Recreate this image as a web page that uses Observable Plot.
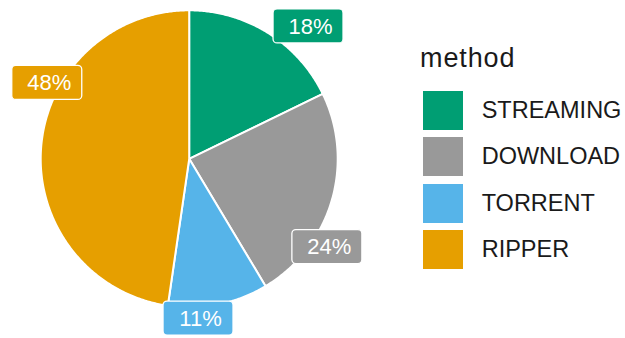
<!DOCTYPE html>
<html>
<head>
<meta charset="utf-8">
<script src="https://cdn.jsdelivr.net/npm/d3@7"></script>
<script src="https://cdn.jsdelivr.net/npm/@observablehq/plot@0.6"></script>
<style>
  html, body { margin: 0; padding: 0; background: #fff; }
  #wrap { position: relative; width: 625px; height: 338px; overflow: hidden; font-family: "Liberation Sans", Arial, sans-serif; }
  #chart { position: absolute; left: 0; top: 0; }
  #legend { position: absolute; left: 420px; top: 45.4px; color: #1a1a1a; }
  #legend .title { font-size: 27px; line-height: 27px; letter-spacing: 0.9px; }
  #legend .row { display: flex; align-items: center; height: 39px; margin-top: 7.5px; }
  #legend .sw { width: 40px; height: 39px; margin-left: 2.7px; margin-right: 19px; }
  #legend .lb { font-size: 23.5px; line-height: 23.5px; }
</style>
</head>
<body>
<div id="wrap">
  <div id="chart"></div>
  <div id="legend"></div>
</div>
<script>
// ---- data ----
const methods = ["STREAMING", "DOWNLOAD", "TORRENT", "RIPPER"];
const shares = [17.8, 23.6, 10.9, 47.7];
const labels = ["18%", "24%", "11%", "48%"];
const colors = ["#009E73", "#999999", "#56B4E9", "#E69F00"];
const legendTitle = "method";

// ---- layout ----
const R = 148.5, cx = 188.7, cy = 158.3;
const labelShiftDeg = [10, 16, 8, 24];   // repel-style nudges
const labelRadius = [1.2, 1.104, 1.078, 1.084];
const boxW = 70, boxH = 34;

const total = d3.sum(shares);
let cum = 0;
const slices = shares.map((v, i) => {
  const a0 = cum / total; cum += v; const a1 = cum / total;
  return {method: methods[i], a0, a1, label: labels[i], i};
});

const pts = [];
for (const s of slices) {
  pts.push({method: s.method, x: 0, y: 0});
  const n = Math.max(2, Math.ceil((s.a1 - s.a0) * 720));
  for (let k = 0; k <= n; k++) {
    const t = 2 * Math.PI * (s.a0 + (s.a1 - s.a0) * k / n);
    pts.push({method: s.method, x: Math.sin(t), y: Math.cos(t)});
  }
  pts.push({method: s.method, x: 0, y: 0});
}

const hw = boxW / 2 / R, hh = boxH / 2 / R;
const lab = slices.map(s => {
  const t = 2 * Math.PI * (s.a0 + s.a1) / 2 + labelShiftDeg[s.i] * Math.PI / 180;
  const r = labelRadius[s.i];
  const x = r * Math.sin(t), y = r * Math.cos(t);
  return {method: s.method, label: s.label, x, y, x1: x - hw, x2: x + hw, y1: y - hh, y2: y + hh};
});

const chart = Plot.plot({
  width: 625, height: 338, margin: 0,
  style: {background: "white", fontFamily: "Liberation Sans, Arial, sans-serif"},
  x: {domain: [-1, 1], range: [cx - R, cx + R], axis: null},
  y: {domain: [-1, 1], range: [cy + R, cy - R], axis: null},
  color: {domain: methods, range: colors},
  marks: [
    Plot.line(pts, {x: "x", y: "y", z: "method", fill: "method", stroke: "white", strokeWidth: 2, curve: "linear"}),
    Plot.rect(lab, {x1: "x1", x2: "x2", y1: "y1", y2: "y2", fill: "method", stroke: "white", strokeWidth: 1.3, rx: 4}),
    Plot.text(lab, {x: "x", y: "y", text: "label", fill: "white", fontSize: 22, dx: 2})
  ]
});
document.getElementById("chart").appendChild(chart);

// ---- legend ----
const leg = document.getElementById("legend");
const title = document.createElement("div");
title.className = "title"; title.textContent = legendTitle;
leg.appendChild(title);
const rows = document.createElement("div");
rows.style.marginTop = "18.6px";
methods.forEach((m, i) => {
  const row = document.createElement("div");
  row.className = "row";
  if (i === 0) row.style.marginTop = "0px";
  const sw = document.createElement("div");
  sw.className = "sw"; sw.style.background = colors[i];
  const lb = document.createElement("div");
  lb.className = "lb"; lb.textContent = m;
  row.appendChild(sw); row.appendChild(lb);
  rows.appendChild(row);
});
leg.appendChild(rows);
</script>
</body>
</html>
